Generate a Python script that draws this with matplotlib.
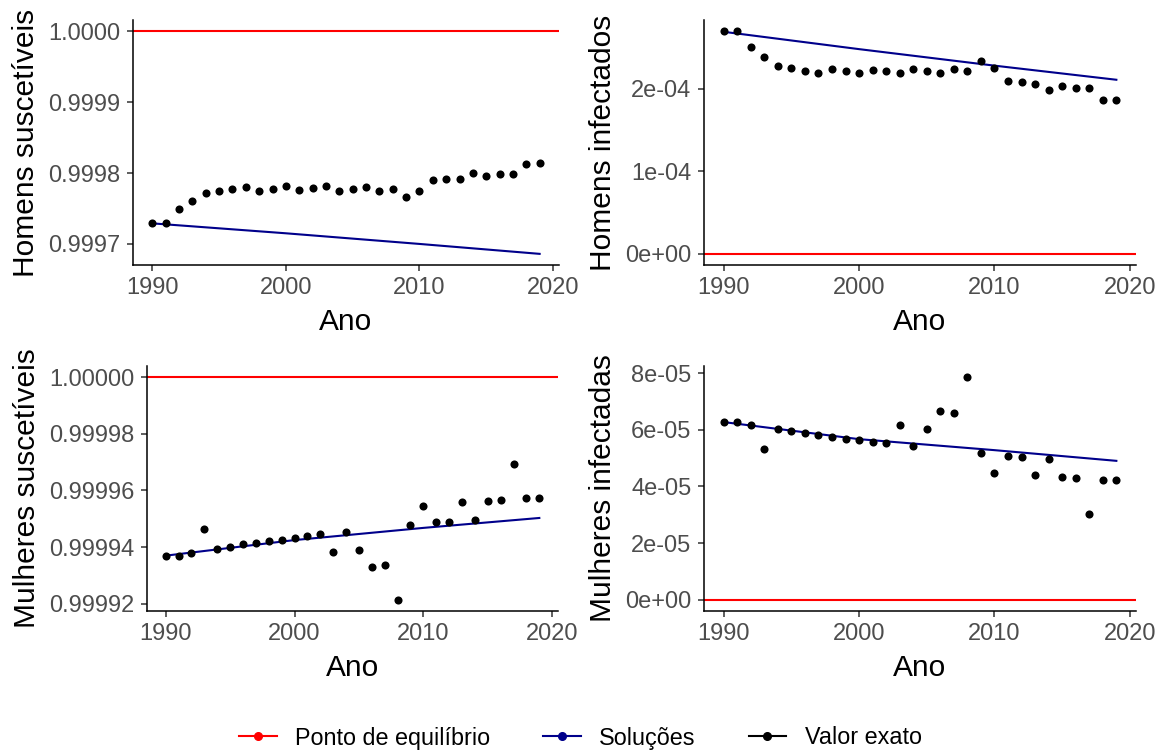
import matplotlib
matplotlib.use("Agg")
import matplotlib.pyplot as plt
from matplotlib.lines import Line2D
from matplotlib.ticker import FuncFormatter, FixedLocator

plt.rcParams["font.family"] = ["Liberation Sans", "DejaVu Sans"]

# ---------------------------------
# Data
# ---------------------------------
years = list(range(1990, 2020))

homens_s = [0.999729, 0.999729, 0.999749, 0.999761, 0.999772, 0.999775, 0.999777,
            0.999780, 0.999775, 0.999778, 0.999781, 0.999776, 0.999779, 0.999781,
            0.999775, 0.999778, 0.999780, 0.999775, 0.999777, 0.999766, 0.999775,
            0.999790, 0.999792, 0.999792, 0.999800, 0.999796, 0.999798, 0.999799,
            0.999813, 0.999814]

homens_i = [2.698e-4, 2.698e-4, 2.504e-4, 2.383e-4, 2.279e-4, 2.246e-4, 2.213e-4,
            2.194e-4, 2.238e-4, 2.210e-4, 2.185e-4, 2.230e-4, 2.210e-4, 2.190e-4,
            2.238e-4, 2.213e-4, 2.194e-4, 2.238e-4, 2.218e-4, 2.331e-4, 2.246e-4,
            2.092e-4, 2.076e-4, 2.061e-4, 1.983e-4, 2.028e-4, 2.012e-4, 2.008e-4,
            1.867e-4, 1.858e-4]

mulheres_s = [0.9999370, 0.9999370, 0.9999378, 0.9999463, 0.9999392, 0.9999401,
              0.9999410, 0.9999414, 0.9999420, 0.9999425, 0.9999433, 0.9999440,
              0.9999445, 0.9999382, 0.9999453, 0.9999390, 0.9999330, 0.9999337,
              0.9999214, 0.9999479, 0.9999546, 0.9999488, 0.9999489, 0.9999558,
              0.9999495, 0.9999562, 0.9999567, 0.9999692, 0.9999572, 0.9999574]

mulheres_i = [6.268e-5, 6.268e-5, 6.184e-5, 5.337e-5, 6.021e-5, 5.961e-5, 5.880e-5,
              5.809e-5, 5.750e-5, 5.690e-5, 5.633e-5, 5.573e-5, 5.527e-5, 6.162e-5,
              5.432e-5, 6.043e-5, 6.677e-5, 6.607e-5, 7.855e-5, 5.174e-5, 4.491e-5,
              5.091e-5, 5.044e-5, 4.386e-5, 4.974e-5, 4.327e-5, 4.303e-5, 3.045e-5,
              4.233e-5, 4.233e-5]

# model solutions (blue line), read at a few years
sol_years = [1990, 2000, 2010, 2019]
sol_homens_s = [0.999729, 0.999715, 0.999700, 0.999686]
sol_homens_i = [2.69e-4, 2.48e-4, 2.28e-4, 2.109e-4]
sol_mulheres_s = [0.9999370, 0.9999425, 0.9999468, 0.9999503]
sol_mulheres_i = [6.27e-5, 5.668e-5, 5.28e-5, 4.903e-5]

# equilibrium points
eq_homens_s, eq_homens_i = 1.0, 0.0
eq_mulheres_s, eq_mulheres_i = 1.0, 0.0

# ---------------------------------
# Figure
# ---------------------------------
W, H = 1161, 751
fig = plt.figure(figsize=(W / 100, H / 100), dpi=100)


def px_axes(left, right, top, bottom):
    return fig.add_axes([left / W, 1 - bottom / H, (right - left) / W, (bottom - top) / H])


panels = [
    (px_axes(133, 559, 20, 265), homens_s, sol_homens_s, eq_homens_s,
     "Homens suscetíveis", [0.9997, 0.9998, 0.9999, 1.0], lambda v, p: f"{v:.4f}"),
    (px_axes(704, 1136, 20, 265), homens_i, sol_homens_i, eq_homens_i,
     "Homens infectados", [0, 1e-4, 2e-4], lambda v, p: f"{v:.0e}"),
    (px_axes(147, 558, 366, 611), mulheres_s, sol_mulheres_s, eq_mulheres_s,
     "Mulheres suscetíveis", [0.99992, 0.99994, 0.99996, 0.99998, 1.0], lambda v, p: f"{v:.5f}"),
    (px_axes(704, 1136, 366, 611), mulheres_i, sol_mulheres_i, eq_mulheres_i,
     "Mulheres infectadas", [0, 2e-5, 4e-5, 6e-5, 8e-5], lambda v, p: f"{v:.0e}"),
]

for ax, vals, sol, eq, ylabel, yticks, fmt in panels:
    ax.axhline(eq, color="red", lw=1.5, zorder=1)
    ax.plot(sol_years, sol, color="darkblue", lw=1.5, zorder=2)
    ax.scatter(years, vals, color="black", s=34, zorder=3, linewidths=0)

    lo = min(min(vals), min(sol), eq)
    hi = max(max(vals), max(sol), eq)
    pad = (hi - lo) * 0.05
    ax.set_ylim(lo - pad, hi + pad)
    ax.set_xlim(1990 - 1.45, 2019 + 1.45)

    ax.xaxis.set_major_locator(FixedLocator([1990, 2000, 2010, 2020]))
    ax.yaxis.set_major_locator(FixedLocator(yticks))
    ax.yaxis.set_major_formatter(FuncFormatter(fmt))

    for s in ["top", "right"]:
        ax.spines[s].set_visible(False)
    for s in ["left", "bottom"]:
        ax.spines[s].set_linewidth(1.1)
        ax.spines[s].set_color("black")
    ax.tick_params(axis="both", length=4, width=1.1, color="#333333",
                   labelsize=17, labelcolor="#4D4D4D", pad=5)

    ax.set_xlabel("Ano", fontsize=21.5, labelpad=6)
    ax.set_ylabel(ylabel, fontsize=21.5, labelpad=6)

handles = [
    Line2D([], [], color="red", lw=1.5, marker="o", markersize=5.5),
    Line2D([], [], color="darkblue", lw=1.5, marker="o", markersize=5.5),
    Line2D([], [], color="black", lw=1.5, marker="o", markersize=5.5),
]
labels = ["Ponto de equilíbrio", "Soluções", "Valor exato"]
fig.legend(handles, labels, loc="center", bbox_to_anchor=(0.5, 1 - 738 / H), ncol=3,
           frameon=False, fontsize=16.8, handlelength=1.6, columnspacing=2.26,
           handletextpad=0.8)

fig.savefig("out.png", dpi=100)
